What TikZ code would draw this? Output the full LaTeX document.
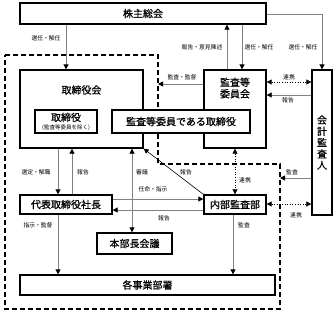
\documentclass[tikz,border=0pt]{standalone}
\usepackage{fontspec}
\setmainfont{Noto Sans CJK JP}
\newfontfamily\jpb[FakeBold=0.8]{Noto Sans CJK JP}
\newfontfamily\jpr{Noto Sans CJK JP}
\usetikzlibrary{arrows.meta}
\tikzset{
  box/.style={draw=black, line width=1.3pt, fill=white, inner sep=0pt, font=\jpb\fontsize{10}{11}\selectfont},
  lbl/.style={font=\fontsize{5.8}{6}\selectfont, inner sep=0pt},
  tip/.style={-{Triangle[length=5pt,width=5pt,color=black]}},
  arr/.style={draw=black!50, line width=0.8pt, tip},
  darr/.style={draw=black, line width=0.6pt, dotted, {Triangle[length=5pt,width=5pt,color=black]}-{Triangle[length=5pt,width=5pt,color=black]}},
  bdr/.style={draw=black, line width=1.4pt, dash pattern=on 5pt off 3pt}
}
\begin{document}
\begin{tikzpicture}[x=1pt,y=-1pt]
\useasboundingbox (0,0) rectangle (336,314);
% dashed boundary
\draw[bdr] (5,55) -- (158,55) -- (158,164) -- (280,164) -- (280,309) -- (5,309) -- cycle;
% boxes
\node[box, minimum width=246pt, minimum height=21pt] (sh) at (143,13.5) {株主総会};
\node[box, minimum width=123pt, minimum height=78pt] (tb) at (81.5,109) {};
\node[font=\jpb\fontsize{10}{11}\selectfont, inner sep=0pt] (tbt) at (81.5,90) {取締役会};
\node[box, minimum width=62pt, minimum height=78pt] (kk) at (235,109) {};
\node[font=\jpb\fontsize{10}{11.5}\selectfont, inner sep=0pt, align=center] (kkt) at (235,88) {監査等\\委員会};
\node[box, minimum width=62pt, minimum height=23pt, align=center] (tr) at (66,121.5) {取締役\\[-3pt]{\jpr\fontsize{5.5}{6}\selectfont (監査等委員を除く)}};
\node[box, minimum width=138pt, minimum height=23pt] (ktr) at (181,121.5) {監査等委員である取締役};
\node[box, minimum width=20pt, minimum height=145pt, align=center, font=\jpb\fontsize{10}{11.3}\selectfont] (ka) at (322,142.5) {会\\計\\監\\査\\人};
\node[box, minimum width=92pt, minimum height=19pt] (dp) at (66,204.5) {代表取締役社長};
\node[box, minimum width=62pt, minimum height=19pt] (nb) at (235,204.5) {内部監査部};
\node[box, minimum width=75pt, minimum height=21pt] (hb) at (134.5,243.5) {本部長会議};
\node[box, minimum width=255pt, minimum height=20pt] (kj) at (147.5,285) {各事業部署};
% free ends on the dashed boundary
\coordinate (d1) at (158,84);
\coordinate (d2) at (280,178);
% connectors
\draw[arr] (sh.south -| 66,0) -- (tb.north -| 66,0);
\draw[arr] (kk.north -| 227,0) -- (sh.south -| 227,0);
\draw[arr] (sh.south -| 242,0) -- (kk.north -| 242,0);
\draw[arr] (sh.east |- 0,14) -| (ka.north);
\draw[arr] (kk.west |- d1) -- (d1);
\draw[darr] (kk.east |- 0,82) -- (ka.west |- 0,82);
\draw[arr] (ka.west |- 0,95) -- (kk.east |- 0,95);
\draw[arr] (tb.south -| 58,0) -- (dp.north -| 58,0);
\draw[arr] (dp.north -| 72,0) -- (tb.south -| 72,0);
\draw[arr, {Triangle[length=5pt,width=5pt,color=black]}-{Triangle[length=5pt,width=5pt,color=black]}] (tb.south -| 132,0) -- (hb.north -| 132,0);
\draw[draw=black, line width=0.6pt, tip] (nb.north west) -- (tb.south east);
\draw[arr] (dp.east |- 0,199) -- (nb.west |- 0,199);
\draw[arr] (nb.west |- 0,210) -- (dp.east |- 0,210);
\draw[darr] (kk.south) -- (nb.north);
\draw[arr] (ka.west |- d2) -- (d2);
\draw[darr] (nb.east |- 0,204) -- (ka.west |- 0,204);
\draw[arr] (dp.south -| 58,0) -- (kj.north -| 58,0);
\draw[arr] (nb.south -| 233,0) -- (kj.north -| 233,0);
% labels
\node[lbl] (l1) at (46,38) {選任・解任};
\node[lbl] (l2) at (202,47) {報告・意見陳述};
\node[lbl] (l3) at (259,47) {選任・解任};
\node[lbl] (l4) at (303,47) {選任・解任};
\node[lbl] (l5) at (182,77) {監査・監督};
\node[lbl] (l6) at (289,77) {連携};
\node[lbl] (l7) at (288,100) {報告};
\node[lbl] (l8) at (36,172) {選定・解職};
\node[lbl] (l9) at (83,172) {報告};
\node[lbl] (l10) at (142,172) {審議};
\node[lbl] (l11) at (186,172) {報告};
\node[lbl] (l12) at (153,189) {任命・指示};
\node[lbl] (l13) at (164,218) {報告};
\node[lbl] (l14) at (245,180) {連携};
\node[lbl] (l15) at (292,172) {監査};
\node[lbl] (l16) at (296,215) {連携};
\node[lbl] (l17) at (38,225) {指示・監督};
\node[lbl] (l18) at (244,225) {監査};
\end{tikzpicture}
\end{document}
